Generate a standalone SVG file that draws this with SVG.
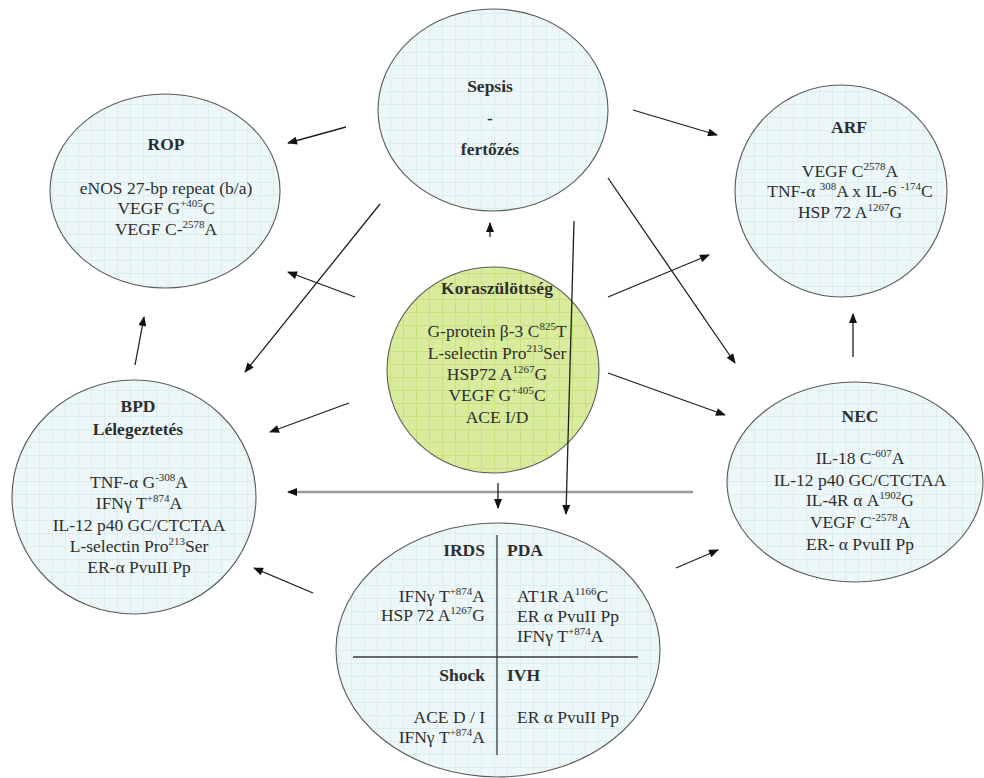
<svg xmlns="http://www.w3.org/2000/svg" width="984" height="778" viewBox="0 0 984 778" font-family="'Liberation Serif', 'Times New Roman', 'DejaVu Serif', serif">
<style>
.node{stroke:#5a5a5a;stroke-width:1.1}
.blue{fill:url(#gridBlue)}
.green{fill:url(#gridGreen)}
text{font-family:'Liberation Serif','Times New Roman','DejaVu Serif',serif;font-size:17.5px;fill:#2e2e2e}
.h{font-weight:bold}
.c{text-anchor:middle}
.r{text-anchor:end}
.sup{font-size:11px}
.conn{stroke:#1e1e1e;stroke-width:1.3;fill:none;marker-end:url(#ah)}
.gray{stroke:#9a9a9a;stroke-width:2.6;fill:none;marker-end:url(#ah)}
.div{stroke:#3a3a3a;stroke-width:1.3}
</style>
<defs>
<pattern id="gridBlue" width="13" height="13" patternUnits="userSpaceOnUse">
<rect width="13" height="13" fill="#edf7f8"/>
<path d="M0 0.5H13M0.5 0V13" stroke="#d9eeef" stroke-width="1"/>
</pattern>
<pattern id="gridGreen" width="13" height="13" patternUnits="userSpaceOnUse">
<rect width="13" height="13" fill="#d9ec9e"/>
<path d="M0 0.5H13M0.5 0V13" stroke="#c6e27e" stroke-width="1"/>
</pattern>
<marker id="ah" viewBox="0 0 10 8" refX="9" refY="4" markerWidth="11" markerHeight="8" markerUnits="userSpaceOnUse" orient="auto">
<path d="M0 0L10 4L0 8Z" fill="#111"/>
</marker>
</defs>

<g id="ROP">
<ellipse class="node blue" cx="165" cy="191" rx="115" ry="97"/>
<text class="c h" x="166" y="150">ROP</text>
<text class="c" x="166" y="194">eNOS 27-bp repeat (b/a)</text>
<text class="c" x="166" y="214">VEGF G<tspan class="sup" dy="-7">+405</tspan><tspan dy="7">C</tspan></text>
<text class="c" x="166" y="235">VEGF C-<tspan class="sup" dy="-7">2578</tspan><tspan dy="7">A</tspan></text>
</g>

<g id="Sepsis">
<ellipse class="node blue" cx="493" cy="110" rx="115" ry="101"/>
<text class="c h" x="490" y="92">Sepsis</text>
<text class="c h" x="490" y="124">-</text>
<text class="c h" x="490" y="155">fertőzés</text>
</g>

<g id="ARF">
<ellipse class="node blue" cx="841" cy="191" rx="106" ry="106"/>
<text class="c h" x="849" y="133">ARF</text>
<text class="c" x="850" y="177">VEGF C<tspan class="sup" dy="-7">2578</tspan><tspan dy="7">A</tspan></text>
<text class="c" x="850" y="197">TNF-α <tspan class="sup" dy="-7">308</tspan><tspan dy="7">A x IL-6 </tspan><tspan class="sup" dy="-7">-174</tspan><tspan dy="7">C</tspan></text>
<text class="c" x="850" y="218">HSP 72 A<tspan class="sup" dy="-7">1267</tspan><tspan dy="7">G</tspan></text>
</g>

<g id="Koraszulottseg">
<ellipse class="node green" cx="493" cy="370" rx="106" ry="103"/>
<text class="c h" x="497" y="294">Koraszülöttség</text>
<text class="c" x="497" y="337">G-protein β-3 C<tspan class="sup" dy="-7">825</tspan><tspan dy="7">T</tspan></text>
<text class="c" x="497" y="359">L-selectin Pro<tspan class="sup" dy="-7">213</tspan><tspan dy="7">Ser</tspan></text>
<text class="c" x="497" y="380">HSP72 A<tspan class="sup" dy="-7">1267</tspan><tspan dy="7">G</tspan></text>
<text class="c" x="497" y="401">VEGF G<tspan class="sup" dy="-7">+405</tspan><tspan dy="7">C</tspan></text>
<text class="c" x="497" y="423">ACE I/D</text>
</g>

<g id="BPD">
<ellipse class="node blue" cx="134" cy="497" rx="122" ry="117"/>
<text class="c h" x="138" y="412">BPD</text>
<text class="c h" x="138" y="435">Lélegeztetés</text>
<text class="c" x="139" y="488">TNF-α G<tspan class="sup" dy="-7">-308</tspan><tspan dy="7">A</tspan></text>
<text class="c" x="139" y="509">IFNγ T<tspan class="sup" dy="-7">+874</tspan><tspan dy="7">A</tspan></text>
<text class="c" x="139" y="531">IL-12 p40 GC/CTCTAA</text>
<text class="c" x="139" y="552">L-selectin Pro<tspan class="sup" dy="-7">213</tspan><tspan dy="7">Ser</tspan></text>
<text class="c" x="139" y="573">ER-α PvuII Pp</text>
</g>

<g id="NEC">
<ellipse class="node blue" cx="855" cy="482" rx="128" ry="100"/>
<text class="c h" x="860" y="422">NEC</text>
<text class="c" x="860" y="464">IL-18 C<tspan class="sup" dy="-7">-607</tspan><tspan dy="7">A</tspan></text>
<text class="c" x="860" y="486">IL-12 p40 GC/CTCTAA</text>
<text class="c" x="860" y="506">IL-4R α A<tspan class="sup" dy="-7">1902</tspan><tspan dy="7">G</tspan></text>
<text class="c" x="860" y="528">VEGF C<tspan class="sup" dy="-7">-2578</tspan><tspan dy="7">A</tspan></text>
<text class="c" x="860" y="550">ER- α PvuII Pp</text>
</g>

<g id="Bottom">
<ellipse class="node blue" cx="498" cy="650" rx="162" ry="127"/>
<line class="div" x1="497" y1="535" x2="497" y2="755"/>
<line class="div" x1="353" y1="657" x2="638" y2="657"/>
<text class="r h" x="485" y="556">IRDS</text>
<text class="h" x="507" y="556">PDA</text>
<text class="r" x="485" y="602">IFNγ T<tspan class="sup" dy="-7">+874</tspan><tspan dy="7">A</tspan></text>
<text class="r" x="485" y="621">HSP 72 A<tspan class="sup" dy="-7">1267</tspan><tspan dy="7">G</tspan></text>
<text x="517" y="602">AT1R A<tspan class="sup" dy="-7">1166</tspan><tspan dy="7">C</tspan></text>
<text x="517" y="622">ER α PvuII Pp</text>
<text x="517" y="642">IFNγ T<tspan class="sup" dy="-7">+874</tspan><tspan dy="7">A</tspan></text>
<text class="r h" x="485" y="681">Shock</text>
<text class="h" x="507" y="681">IVH</text>
<text class="r" x="485" y="723">ACE D / I</text>
<text class="r" x="485" y="743">IFNγ T<tspan class="sup" dy="-7">+874</tspan><tspan dy="7">A</tspan></text>
<text x="517" y="723">ER α PvuII Pp</text>
</g>

<g id="connectors">
<line class="conn" x1="346" y1="127" x2="288" y2="143"/>
<line class="conn" x1="633" y1="110" x2="717" y2="135"/>
<line class="conn" x1="490" y1="237" x2="490" y2="223"/>
<line class="conn" x1="380" y1="204" x2="245" y2="372"/>
<line class="conn" x1="608" y1="178" x2="735" y2="363"/>
<line class="conn" x1="355" y1="297" x2="288" y2="272"/>
<line class="conn" x1="608" y1="297" x2="709" y2="255"/>
<line class="conn" x1="349" y1="403" x2="270" y2="432"/>
<line class="conn" x1="608" y1="373" x2="725" y2="415"/>
<line class="conn" x1="853" y1="357" x2="853" y2="314"/>
<line class="conn" x1="135" y1="365" x2="144" y2="317"/>
<line class="gray" x1="693" y1="492" x2="288" y2="492"/>
<line class="conn" x1="498" y1="483" x2="498" y2="508"/>
<line class="conn" x1="574" y1="221" x2="566" y2="514"/>
<line class="conn" x1="313" y1="593" x2="254" y2="568"/>
<line class="conn" x1="676" y1="568" x2="718" y2="550"/>
</g>
</svg>
